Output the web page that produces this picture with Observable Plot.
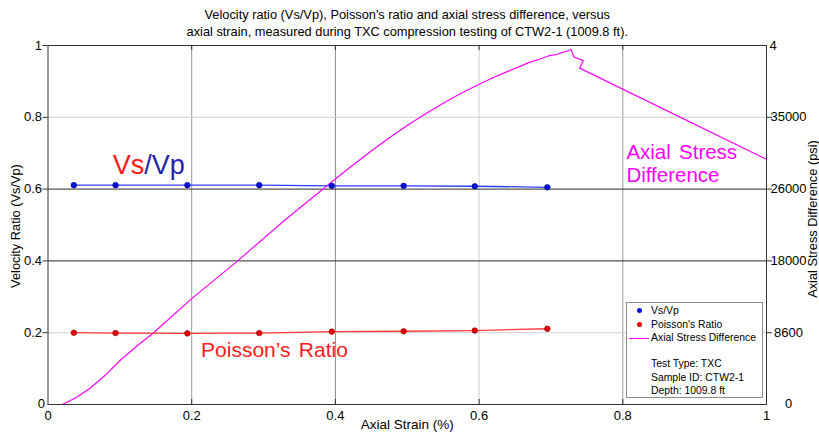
<!DOCTYPE html>
<html>
<head>
<meta charset="utf-8">
<script src="https://cdn.jsdelivr.net/npm/d3@7"></script>
<script src="https://cdn.jsdelivr.net/npm/@observablehq/plot@0.6"></script>
<style>
  html, body { margin: 0; padding: 0; background: #fff; }
  #chart { position: relative; width: 819px; height: 438px; font-family: "Liberation Sans", Arial, sans-serif; }
  #chart svg { display: block; }
  .legend {
    position: absolute; left: 626px; top: 302px; width: 137px; height: 96px;
    box-sizing: border-box; border: 1px solid #8c8c8c; background: #fff;
    font-size: 10.4px; color: #000; padding-top: 1px;
  }
  .legend .row { position: relative; height: 13.5px; line-height: 13.5px; padding-left: 24px; white-space: nowrap; }
  .legend .gap { height: 12.5px; }
  .legend .dot { position: absolute; left: 10px; top: 4px; width: 5px; height: 5px; border-radius: 50%; }
  .legend .swatch { position: absolute; left: 2px; top: 6.5px; width: 20px; height: 1px; background: #ff00ff; }
  .ann-wide text { word-spacing: 2.5px; }
</style>
</head>
<body>
<div id="chart"></div>
<script>
// Axial strain (%) at each ultrasonic velocity measurement
const velocityStrain = [0.036, 0.094, 0.194, 0.294, 0.395, 0.495, 0.594, 0.695];
// Velocity ratio Vs/Vp
const vsvpRatio = [0.611, 0.611, 0.611, 0.611, 0.609, 0.609, 0.608, 0.605];
// Poisson's ratio
const poissonRatio = [0.200, 0.199, 0.198, 0.199, 0.203, 0.204, 0.206, 0.211];

// Axial stress difference trace: strain (%) and stress (psi)
const stressStrain = [0, 0.055, 0.02, 0.04, 0.059, 0.08, 0.101, 0.125, 0.147, 0.2, 0.264, 0.331, 0.391,
  0.42, 0.45, 0.475, 0.5, 0.525, 0.55, 0.575, 0.6, 0.62, 0.64, 0.67, 0.685, 0.698, 0.708, 0.715, 0.722, 0.728,
  0.732, 0.745, 0.740, 1.0];
const stressPsi = [0, 0, 0, 880, 2024, 3608, 5456, 7260, 8800, 12980, 17600, 22704, 27000,
  29040, 31064, 32692, 34188, 35596, 36916, 38148, 39248, 40084, 40832, 41932, 42350, 42768, 42900, 43120, 43300, 43516,
  42592, 42152, 41228, 30052];
// Right axis spans 0..STRESS_FULL_SCALE psi over the same height as the 0..1 ratio axis
const STRESS_FULL_SCALE = 44000;

// Tick values and labels
const ratioTicks = [0, 0.2, 0.4, 0.6, 0.8, 1];
const strainTicks = [0, 0.2, 0.4, 0.6, 0.8, 1];
const stressTickLabels = ["0", "8600", "18000", "26000", "35000", "4"];

const titleText = "Velocity ratio (Vs/Vp), Poisson's ratio and axial stress difference, versus\naxial strain, measured during TXC compression testing of CTW2-1 (1009.8 ft).";

const MAGENTA = "#ff00ff";
const idxV = d3.range(velocityStrain.length);
const idxS = d3.range(stressStrain.length);
const stressLabel = d => stressTickLabels[Math.round(d * 5)];
const plainNumber = d => `${+d.toFixed(1)}`;

const chart = Plot.plot({
  width: 819,
  height: 438,
  marginTop: 45,
  marginBottom: 34,
  marginLeft: 47.5,
  marginRight: 53,
  style: { fontFamily: "'Liberation Sans', Arial, sans-serif", fontSize: "13px", color: "#000", background: "#fff" },
  x: { domain: [0, 1] },
  y: { domain: [0, 1] },
  marks: [
    // grid
    Plot.ruleX([0.2, 0.8], { stroke: "#9a9a9a" }),
    Plot.ruleX([0.4], { stroke: "#8a8a8a" }),
    Plot.ruleX([0.6], { stroke: "#cfcfcf" }),
    Plot.ruleY([0.2, 0.8], { stroke: "#cfcfcf" }),
    Plot.ruleY([0.4, 0.6], { stroke: "#2a2a2a" }),

    // axial stress difference
    Plot.line(idxS, {
      x: i => stressStrain[i],
      y: i => stressPsi[i] / STRESS_FULL_SCALE,
      stroke: MAGENTA, strokeWidth: 1.2
    }),

    // Vs/Vp
    Plot.line(idxV, { x: i => velocityStrain[i], y: i => vsvpRatio[i], stroke: "#2f3cff", strokeWidth: 1.3 }),
    Plot.dot(idxV, { x: i => velocityStrain[i], y: i => vsvpRatio[i], r: 2.8, fill: "#0010d8", stroke: "#00008a", strokeWidth: 0.6 }),

    // Poisson's ratio
    Plot.line(idxV, { x: i => velocityStrain[i], y: i => poissonRatio[i], stroke: "#ff3b3b", strokeWidth: 1.3 }),
    Plot.dot(idxV, { x: i => velocityStrain[i], y: i => poissonRatio[i], r: 2.8, fill: "#e60000", stroke: "#8a0000", strokeWidth: 0.6 }),

    // inward ticks on bottom and top edges
    Plot.ruleX([0.2, 0.4, 0.6, 0.8], { stroke: "#333", insetTop: 354 }),
    Plot.ruleX([0.2, 0.4, 0.6, 0.8], { stroke: "#333", insetBottom: 354 }),

    Plot.frame({ stroke: "#333" }),

    // left axis
    Plot.axisY({ anchor: "left", ticks: ratioTicks.slice(1), tickSize: 5, tickPadding: 1, tickFormat: plainNumber, label: null, stroke: "#333" }),
    Plot.axisY({ anchor: "left", ticks: [0], tickSize: 0, tickPadding: 3, dy: -1, tickFormat: plainNumber, label: null }),
    // bottom axis
    Plot.axisX({ anchor: "bottom", ticks: strainTicks, tickSize: 0, tickPadding: 6, tickFormat: plainNumber, label: null }),
    // right axis (stress)
    Plot.axisY({ anchor: "right", ticks: ratioTicks.slice(1, 5), tickSize: 5, tickPadding: 17, textAnchor: "middle", tickFormat: stressLabel, label: null, stroke: "#333" }),
    Plot.axisY({ anchor: "right", ticks: [1], tickSize: 0, tickPadding: 3, textAnchor: "start", tickFormat: stressLabel, label: null }),
    Plot.axisY({ anchor: "right", ticks: [0], tickSize: 0, tickPadding: 22, textAnchor: "middle", dy: -1, tickFormat: stressLabel, label: null }),

    // axis titles
    Plot.text(["Axial Strain (%)"], { frameAnchor: "bottom", dy: 24, fontSize: 13.5 }),
    Plot.text(["Velocity Ratio (Vs/Vp)"], { frameAnchor: "left", textAnchor: "middle", rotate: -90, dx: -32, dy: 1, fontSize: 12.8 }),
    Plot.text(["Axial Stress Difference (psi)"], { frameAnchor: "right", textAnchor: "middle", rotate: -90, dx: 46, dy: -6, fontSize: 12.8 }),

    // chart title
    Plot.text([titleText], { frameAnchor: "top", lineAnchor: "bottom", dy: -10, lineHeight: 1.3, fontSize: 12.8 }),

    // series annotations
    Plot.text(["Vs"], { x: 0.134, y: 0.641, textAnchor: "end", lineAnchor: "bottom", fontSize: 27, fill: "#ff1a1a" }),
    Plot.text(["/Vp"], { x: 0.134, y: 0.641, textAnchor: "start", lineAnchor: "bottom", fontSize: 27, fill: "#2424aa" }),
    Plot.text(["Poisson’s Ratio"], { x: 0.213, y: 0.132, textAnchor: "start", lineAnchor: "bottom", fontSize: 21, fill: "#ff1a1a", className: "ann-wide" }),
    Plot.text(["Axial Stress\nDifference"], { x: 0.805, y: 0.620, textAnchor: "start", lineAnchor: "bottom", lineHeight: 1.1, fontSize: 20.5, fill: MAGENTA, className: "ann-wide" })
  ]
});

const root = document.getElementById("chart");
root.appendChild(chart);

// legend box with test information
const legend = document.createElement("div");
legend.className = "legend";
legend.innerHTML = `
  <div class="row"><span class="dot" style="background:#0010d8"></span>Vs/Vp</div>
  <div class="row"><span class="dot" style="background:#e60000"></span>Poisson's Ratio</div>
  <div class="row"><span class="swatch"></span>Axial Stress Difference</div>
  <div class="gap"></div>
  <div class="row">Test Type: TXC</div>
  <div class="row">Sample ID: CTW2-1</div>
  <div class="row">Depth: 1009.8 ft</div>`;
root.appendChild(legend);
</script>
</body>
</html>
